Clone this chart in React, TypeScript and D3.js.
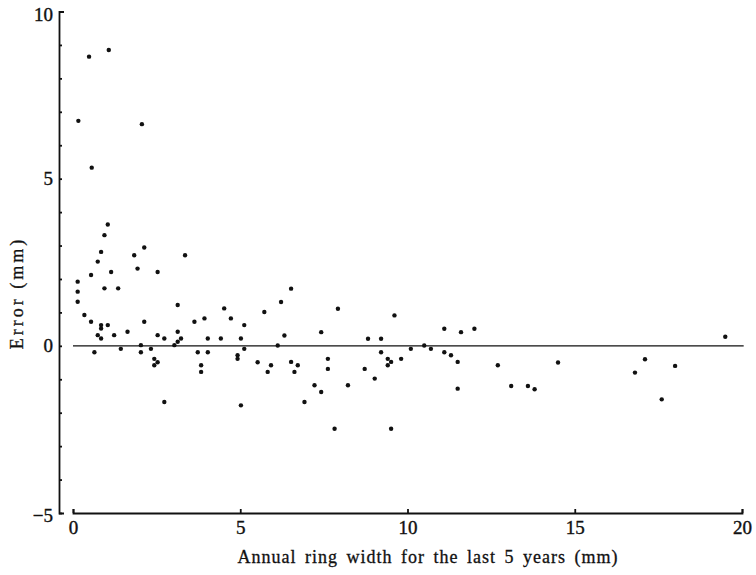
import { useRef, useEffect } from "react";
import { select, scaleLinear, axisLeft, axisBottom, range } from "d3";

// Annual ring width for the last 5 years (mm)
const ringWidth = [
  0.16, 0.48, 0.56, 1.07, 2.06,
  0.14, 0.14, 0.14, 0.34, 0.54, 0.54, 0.64, 0.74, 0.74, 0.84, 0.84, 0.84, 0.84,
  0.94, 1.04, 0.94, 1.04, 1.14, 1.23, 1.35, 1.43, 1.63, 1.83, 1.93, 2.13, 2.03,
  2.03, 2.13, 2.33, 2.43, 2.53, 2.43, 2.53, 2.53, 2.73, 2.73, 3.03, 3.13, 3.13,
  3.13, 3.23, 3.35, 3.63, 3.73, 3.83, 3.83, 3.93, 4.03, 4.03, 4.42, 4.52, 4.72,
  4.92, 4.92, 5.02, 5.02, 5.12, 5.12, 5.52,
  5.72, 5.82, 5.92, 6.12, 6.22, 6.32, 6.52, 6.52, 6.62, 6.72, 6.92, 7.22, 7.42,
  7.42, 7.62, 7.62, 7.82, 7.92, 8.22, 8.72, 8.82, 9.02, 9.21, 9.21, 9.41, 9.41,
  9.51, 9.51, 9.61, 9.81, 10.1, 10.5, 10.7, 11.1, 11.1, 11.3, 11.5, 11.5, 11.6,
  12.0, 12.7,
  13.1, 13.6, 13.8, 14.5, 16.8, 17.1, 17.6, 18.0, 19.5,
];

// Error (mm)
const errorMm = [
  6.73, 8.65, 5.33, 8.85, 6.63,
  1.92, 1.62, 1.32, 0.92, 2.12, 0.72, -0.19, 2.52, 0.32, 2.81, 0.62, 0.52, 0.22,
  3.31, 3.63, 1.72, 0.62, 2.21, 0.32, 1.72, -0.09, 0.42, 2.71, 2.31, 2.94, 0.02,
  -0.19, 0.72, -0.09, -0.39, -0.49, -0.58, 2.21, 0.32, 0.22, -1.68, 0.02, 0.12, 0.42,
  1.22, 0.22, 2.71, 0.72, -0.19, -0.58, -0.78, 0.82, 0.22, -0.19, 0.22, 1.12, 0.82,
  -0.28, -0.39, -1.78, 0.22, 0.62, -0.09, -0.49,
  1.01, -0.78, -0.58, 0.01, 1.31, 0.31, 1.71, -0.48, -0.78, -0.58, -1.68, -1.18, -1.38,
  0.41, -0.39, -0.69, -2.48, 1.11, -1.18, -0.69, 0.21, -0.98, 0.21, -0.19, -0.39, -0.58,
  -0.48, -2.48, 0.91, -0.39, -0.09, 0.01, -0.09, 0.51, -0.19, -0.28, -0.48, -1.28, 0.41,
  0.51, -0.58,
  -1.2, -1.2, -1.3, -0.5, -0.8, -0.4, -1.6, -0.6, 0.27,
];

const xTicks = [0, 5, 10, 15, 20];
const yTicks = [-5, 0, 5, 10];

const font = "Liberation Serif, DejaVu Serif, serif";

export default function App() {
  const svgRef = useRef(null);

  useEffect(() => {
    const svg = select(svgRef.current);
    const xScale = scaleLinear().domain([0, 20]).range([73, 742]);
    const yScale = scaleLinear().domain([-5, 10]).range([513, 11.5]);

    // y axis: minor ticks every unit, pointing inward, bracket ends
    const yMinor = axisLeft(yScale)
      .tickValues(range(-5, 11))
      .tickSizeInner(-3)
      .tickSizeOuter(-5)
      .tickFormat(() => "");
    const yAxisG = svg.select(".y-axis").attr("transform", "translate(59,0)").call(yMinor);
    yAxisG.selectAll("path, line").attr("stroke", "#111").attr("stroke-width", 1.8);

    const yLabels = axisLeft(yScale).tickValues(yTicks).tickSize(0).tickPadding(6);
    const yLab = svg.select(".y-labels").attr("transform", "translate(59,0)").call(yLabels);
    yLab.select(".domain").remove();
    yLab.attr("font-family", null).attr("font-size", null);
    yLab
      .selectAll("text")
      .style("font-family", font)
      .style("font-size", "19px")
      .attr("fill", "#111")
      .attr("stroke", "#111")
      .attr("stroke-width", 0.4)
      .attr("dy", (d) => (d === 10 || d === -5 ? "0.45em" : "0.32em"));

    // x axis
    const xAxis = axisBottom(xScale)
      .tickValues(xTicks)
      .tickSizeInner(-4)
      .tickSizeOuter(-4)
      .tickPadding(8);
    const xAxisG = svg.select(".x-axis").attr("transform", "translate(0,513)").call(xAxis);
    xAxisG.attr("font-family", null).attr("font-size", null);
    xAxisG.selectAll("path, line").attr("stroke", "#111").attr("stroke-width", 1.8);
    xAxisG
      .selectAll("text")
      .style("font-family", font)
      .style("font-size", "19px")
      .attr("fill", "#111")
      .attr("stroke", "#111")
      .attr("stroke-width", 0.4);

    // zero line
    svg
      .select(".zero")
      .attr("x1", xScale(0))
      .attr("x2", xScale(20.05))
      .attr("y1", yScale(0))
      .attr("y2", yScale(0))
      .attr("stroke", "#111")
      .attr("stroke-width", 1.4);

    // points
    svg
      .select(".dots")
      .selectAll("circle")
      .data(ringWidth.map((w, i) => [w, errorMm[i]]))
      .join("circle")
      .attr("cx", (d) => xScale(d[0]))
      .attr("cy", (d) => yScale(d[1]))
      .attr("r", 2.2)
      .attr("fill", "#111");
  }, []);

  return (
    <div>
      <style>{"body{margin:0}"}</style>
      <svg ref={svgRef} width={756} height={575} style={{ display: "block", background: "#fff" }}>
        <line className="zero" />
        <g className="y-axis" />
        <g className="y-labels" />
        <g className="x-axis" />
        <g className="dots" />
        <text
          x={428}
          y={563}
          textAnchor="middle"
          style={{ fontFamily: font, fontSize: "18px", letterSpacing: "1px", wordSpacing: "3px" }}
          fill="#111"
          stroke="#111"
          strokeWidth={0.3}
        >
          Annual ring width for the last 5 years (mm)
        </text>
        <text
          transform="translate(23,293) rotate(-90)"
          textAnchor="middle"
          style={{ fontFamily: font, fontSize: "18px", letterSpacing: "3px" }}
          fill="#111"
          stroke="#111"
          strokeWidth={0.3}
        >
          Error (mm)
        </text>
      </svg>
    </div>
  );
}
